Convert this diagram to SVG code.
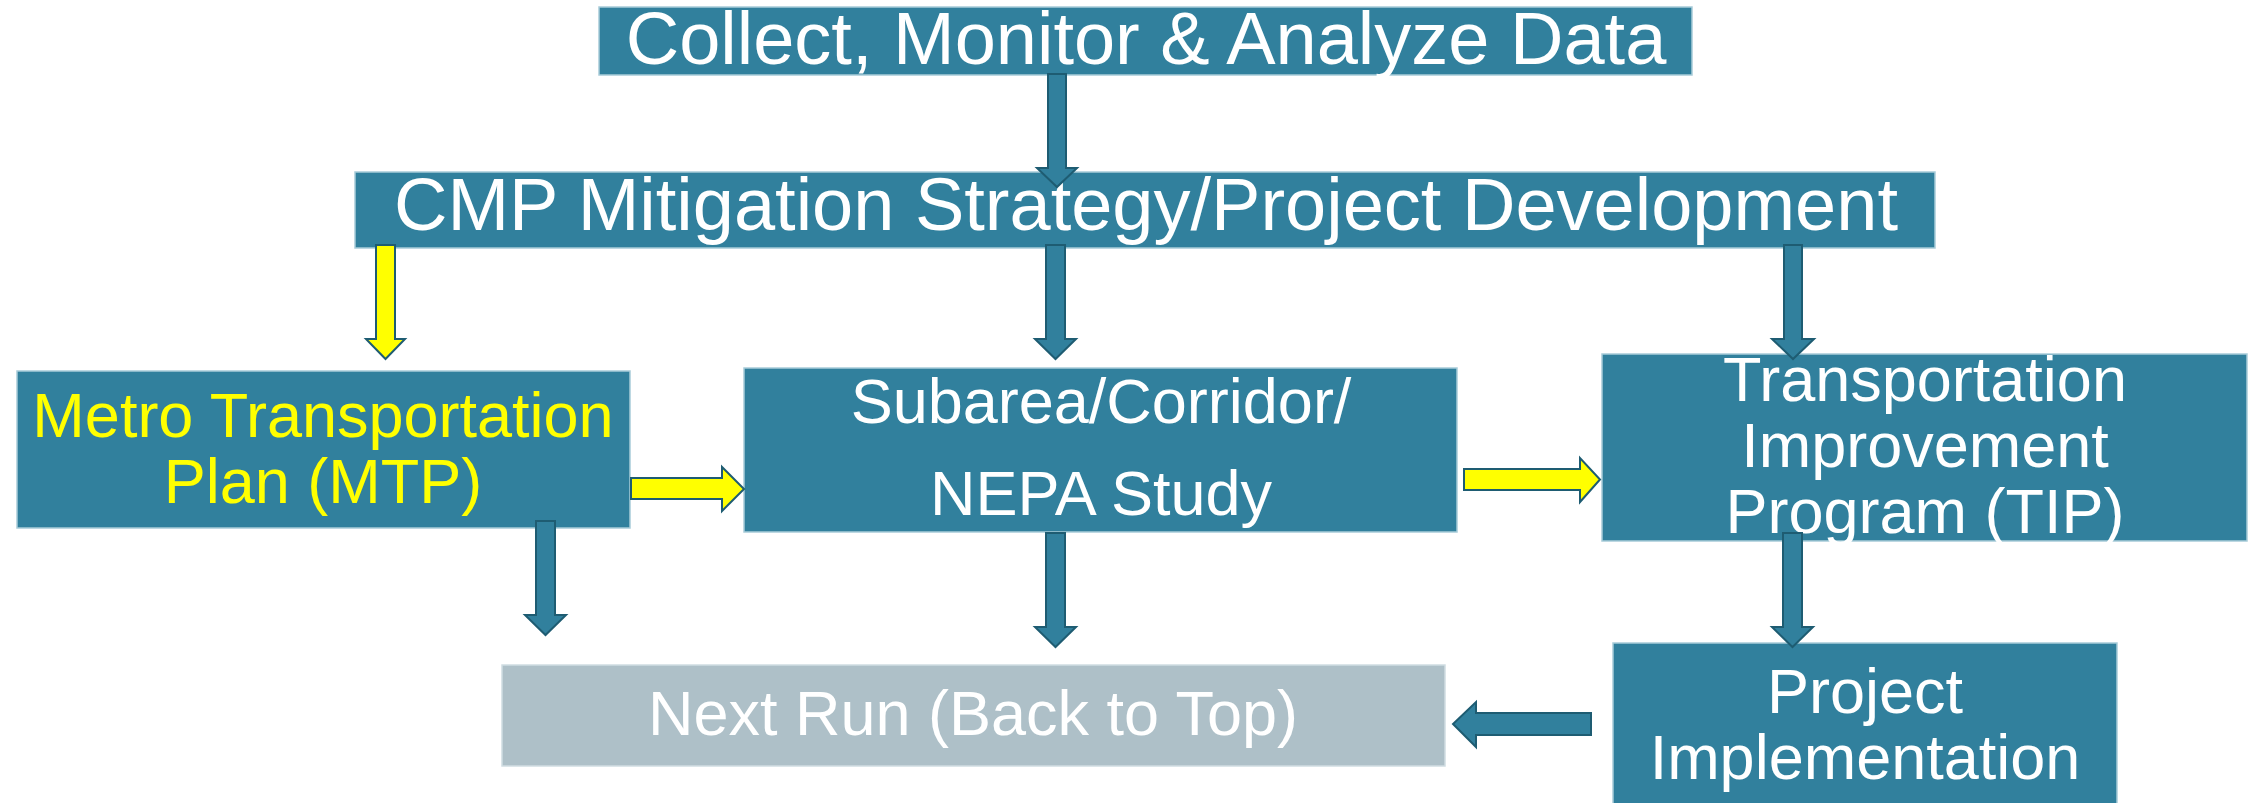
<svg xmlns="http://www.w3.org/2000/svg" width="2257" height="803" viewBox="0 0 2257 803">
<style>
.box{fill:#31809D;stroke:#A8CCD9;stroke-width:1.5}
.gray{fill:#AEC0C8;stroke:#D0DDE2;stroke-width:1.5}
.t{font-family:"Liberation Sans",Arial,sans-serif;fill:#FFFFFF;text-anchor:middle}
.y{fill:#FFFF00}
.ab{fill:#31809D;stroke:#1E5C72;stroke-width:2;stroke-linejoin:miter}
.ay{fill:#FFFF00;stroke:#1E5C72;stroke-width:2;stroke-linejoin:miter}
</style>
<rect width="2257" height="803" fill="#FFFFFF"/>
<g id="collect">
<rect class="box" x="599" y="7" width="1093" height="68"/>
<text class="t" x="1146" y="64" font-size="74">Collect, Monitor &amp; Analyze Data</text>
</g>
<g id="cmp">
<rect class="box" x="355" y="172" width="1580" height="76"/>
<text class="t" x="1146" y="230" font-size="74">CMP Mitigation Strategy/Project Development</text>
</g>
<g id="mtp">
<rect class="box" x="17" y="371" width="613" height="157"/>
<text class="t y" x="323" y="437" font-size="63">Metro Transportation</text>
<text class="t y" x="323" y="503" font-size="63">Plan (MTP)</text>
</g>
<g id="subarea">
<rect class="box" x="744" y="368" width="713" height="164"/>
<text class="t" x="1101" y="423" font-size="63">Subarea/Corridor/</text>
<text class="t" x="1101" y="515" font-size="63">NEPA Study</text>
</g>
<g id="tip">
<rect class="box" x="1602" y="354" width="645" height="187"/>
<text class="t" x="1925" y="401" font-size="63">Transportation</text>
<text class="t" x="1925" y="467" font-size="63">Improvement</text>
<text class="t" x="1925" y="533" font-size="63">Program (TIP)</text>
</g>
<g id="nextrun">
<rect class="gray" x="502" y="665" width="943" height="101"/>
<text class="t" x="973" y="735" font-size="63">Next Run (Back to Top)</text>
</g>
<g id="project">
<rect class="box" x="1613" y="643" width="504" height="165"/>
<text class="t" x="1865" y="713" font-size="63">Project</text>
<text class="t" x="1865" y="779" font-size="63">Implementation</text>
</g>
<g id="connectors">
<polygon class="ab" points="1048,74 1066,74 1066,168 1077,168 1057,187 1037,168 1048,168"/>
<polygon class="ay" points="376,245 395,245 395,339 405,339 385.5,359 366,339 376,339"/>
<polygon class="ab" points="1046,245 1065,245 1065,339 1076,339 1055.5,359 1035,339 1046,339"/>
<polygon class="ab" points="1784,245 1802,245 1802,339 1814,339 1793,359 1772,339 1784,339"/>
<polygon class="ab" points="536,521 555,521 555,615 566,615 545.5,635 525,615 536,615"/>
<polygon class="ab" points="1046,533 1065,533 1065,627 1076,627 1055.5,647 1035,627 1046,627"/>
<polygon class="ab" points="1783,533 1802,533 1802,627 1813,627 1792.5,647 1772,627 1783,627"/>
<polygon class="ay" points="631,478 722,478 722,467 744,489 722,511 722,499 631,499"/>
<polygon class="ay" points="1464,469 1580,469 1580,458 1600,479.5 1580,502 1580,490 1464,490"/>
<polygon class="ab" points="1591,713 1476,713 1476,702 1453,724 1476,747 1476,735 1591,735"/>
</g>
</svg>
